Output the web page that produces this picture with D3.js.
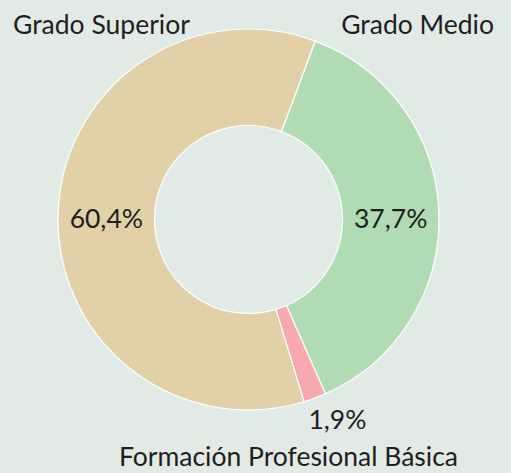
<!DOCTYPE html>
<html>
<head>
<meta charset="utf-8">
<script src="https://cdn.jsdelivr.net/npm/d3@7"></script>
<style>
  html, body { margin: 0; padding: 0; background: #e1eae5; }
  svg text { font-family: Lato, "Open Sans", sans-serif; fill: #1e1e1e; }
</style>
</head>
<body>
<div id="chart"></div>
<script>
// data (clockwise from the top-right)
const categories = ["Grado Medio", "Formación Profesional Básica", "Grado Superior"];
const shares = [37.7, 1.9, 60.4];
const shareLabels = ["37,7%", "1,9%", "60,4%"];
const colors = ["#b1dbb3", "#f6a9ae", "#e2d0a8"];

const width = 511, height = 473;
const cx = 248.5, cy = 219.5;
const outerR = 190.5, innerR = 94;
const fontSize = 26.5;
const start = 20.5 * Math.PI / 180;

const svg = d3.select("#chart").append("svg")
    .attr("width", width)
    .attr("height", height);

svg.append("rect")
    .attr("width", width)
    .attr("height", height)
    .attr("fill", "#e1eae5");

const g = svg.append("g")
    .attr("transform", `translate(${cx},${cy})`);

const pie = d3.pie()
    .sort(null)
    .value(d => d)
    .startAngle(start)
    .endAngle(start + 2 * Math.PI);

const arcs = pie(shares);

const arc = d3.arc()
    .innerRadius(innerR)
    .outerRadius(outerR);

g.selectAll("path.slice")
    .data(arcs)
    .join("path")
    .attr("class", "slice")
    .attr("d", arc)
    .attr("fill", (d, i) => colors[i])
    .attr("stroke", "#fff")
    .attr("stroke-width", 1.2);

// percent labels: big slices inside, the thin one outside
const outerArc = d3.arc().innerRadius(outerR + 22).outerRadius(outerR + 22);

g.selectAll("text.pct")
    .data(arcs)
    .join("text")
    .attr("class", "pct")
    .attr("text-anchor", "middle")
    .attr("dominant-baseline", "central")
    .style("font-size", fontSize + "px")
    .attr("transform", d => {
        const small = (d.endAngle - d.startAngle) < 0.3;
        const [x, y] = small ? outerArc.centroid(d) : arc.centroid(d);
        return small ? `translate(${x + 15},${y})` : `translate(${x},${y + 3})`;
    })
    .text((d, i) => shareLabels[i]);

// category labels
svg.append("text")
    .attr("x", 13).attr("y", 34)
    .style("font-size", fontSize + "px")
    .text(categories[2]);

svg.append("text")
    .attr("x", 494).attr("y", 34)
    .attr("text-anchor", "end")
    .style("font-size", fontSize + "px")
    .text(categories[0]);

svg.append("text")
    .attr("x", 458).attr("y", 466)
    .attr("text-anchor", "end")
    .style("font-size", fontSize + "px")
    .text(categories[1]);
</script>
</body>
</html>
